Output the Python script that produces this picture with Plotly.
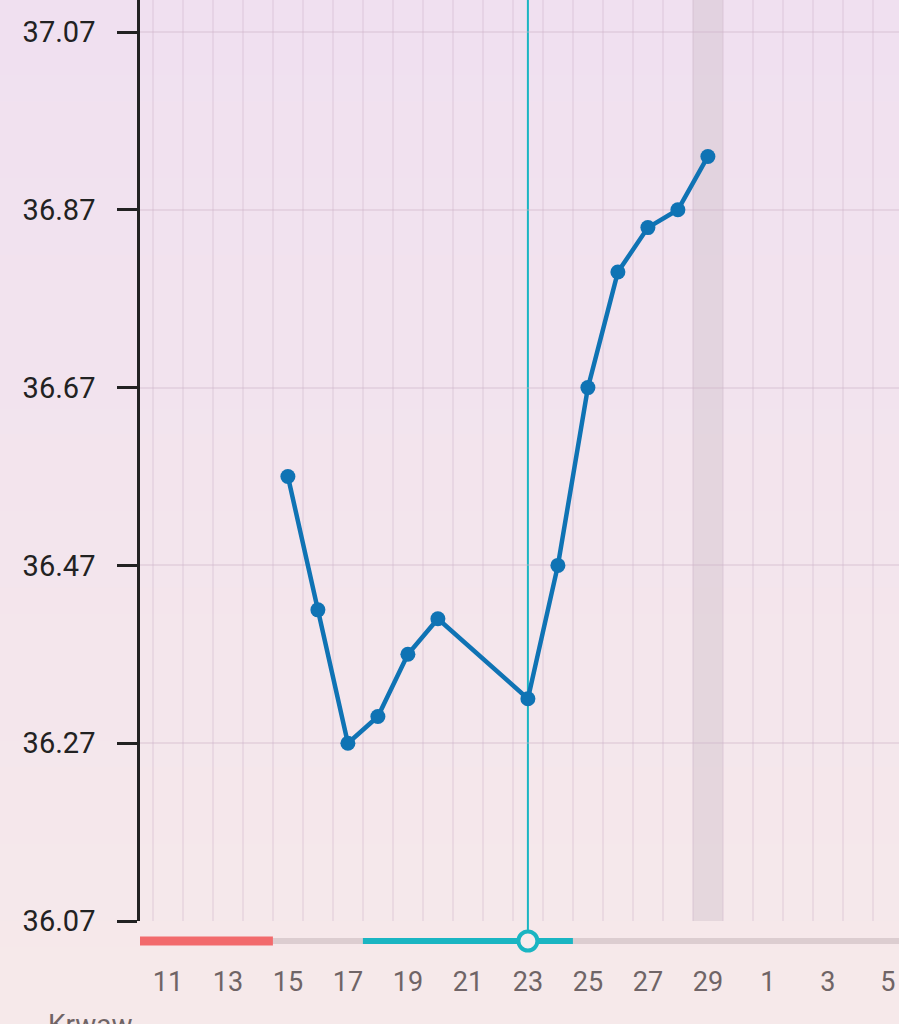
import plotly.graph_objects as go

# ---- data ----
days = [15, 16, 17, 18, 19, 20, 23, 24, 25, 26, 27, 28, 29]
temps = [36.57, 36.42, 36.27, 36.30, 36.37, 36.41, 36.32, 36.47, 36.67, 36.80, 36.85, 36.87, 36.93]

y_ticks = [36.07, 36.27, 36.47, 36.67, 36.87, 37.07]
x_tickvals = [11, 13, 15, 17, 19, 21, 23, 25, 27, 29, 31, 33, 35]
x_ticktext = ["11", "13", "15", "17", "19", "21", "23", "25", "27", "29", "1", "3", "5"]

period_days = [10.07, 14.5]      # red strip
fertile_days = [17.5, 24.5]      # teal strip
ovulation_day = 23
today_day = 29
x_range = [10.07, 35.37]
y_range = [36.07, 37.106]

W, H = 899, 1024
left_px, bottom_px = 140, 921
strip_px = 941

fig = go.Figure()

fig.add_trace(go.Scatter(
    x=days, y=temps, mode="lines+markers",
    line=dict(color="#0f73b4", width=4.5),
    marker=dict(color="#0f73b4", size=15),
    hoverinfo="skip", showlegend=False,
))

shapes = []
# background gradient
top_c = (240, 224, 240)
bot_c = (246, 233, 234)
n = 40
for i in range(n):
    t = i / (n - 1)
    c = tuple(round(top_c[k] + (bot_c[k] - top_c[k]) * t) for k in range(3))
    shapes.append(dict(type="rect", xref="paper", yref="paper",
                       x0=0, x1=1, y0=1 - (i + 1) / n, y1=1 - i / n + 0.001,
                       fillcolor="rgb(%d,%d,%d)" % c, line=dict(width=0), layer="below"))

# today band
shapes.append(dict(type="rect", xref="x", yref="paper", x0=today_day - 0.5, x1=today_day + 0.5,
                   y0=(H - bottom_px) / H, y1=1, fillcolor="rgba(205,190,200,0.4)",
                   line=dict(width=0), layer="below"))
# ovulation line
shapes.append(dict(type="line", xref="x", yref="paper", x0=ovulation_day, x1=ovulation_day,
                   y0=(H - strip_px) / H, y1=1, line=dict(color="#1ab5c2", width=2), layer="below"))

sy = (H - strip_px) / H
# strip: grey base
shapes.append(dict(type="line", xref="x", yref="paper", x0=x_range[0], x1=x_range[1], y0=sy, y1=sy,
                   line=dict(color="#dccdd0", width=6)))
shapes.append(dict(type="line", xref="x", yref="paper", x0=period_days[0], x1=period_days[1], y0=sy, y1=sy,
                   line=dict(color="#f26a6c", width=9)))
shapes.append(dict(type="line", xref="x", yref="paper", x0=fertile_days[0], x1=fertile_days[1], y0=sy, y1=sy,
                   line=dict(color="#1ab5c2", width=6)))
shapes.append(dict(type="circle", xref="x", yref="paper", xsizemode="pixel", ysizemode="pixel",
                   xanchor=ovulation_day, yanchor=sy, x0=-9.5, x1=9.5, y0=-9.5, y1=9.5,
                   fillcolor="#f8ecee", line=dict(color="#1ab5c2", width=4)))

fig.update_layout(
    width=W, height=H,
    margin=dict(l=0, r=0, t=0, b=0),
    paper_bgcolor="#f6e8ea",
    plot_bgcolor="rgba(0,0,0,0)",
    font=dict(family="Roboto", size=27, color="#222"),
    shapes=shapes,
    showlegend=False,
    xaxis=dict(
        domain=[left_px / W, 1],
        range=x_range,
        automargin=False,
        tickmode="array", tickvals=x_tickvals, ticktext=x_ticktext,
        showgrid=False, zeroline=False, showline=False, ticks="",
        tickfont=dict(size=27, color="#6f6466"),
        ticklabelstandoff=42,
        minor=dict(tick0=10.5, dtick=1, showgrid=True, gridcolor="rgba(205,180,200,0.28)", gridwidth=2),
        fixedrange=True,
    ),
    yaxis=dict(
        domain=[(H - bottom_px) / H, 1],
        range=y_range,
        automargin=False,
        tickmode="array", tickvals=y_ticks, ticktext=["%.2f" % v for v in y_ticks],
        showgrid=True, gridcolor="rgba(205,180,200,0.35)", gridwidth=2,
        zeroline=False,
        showline=True, linecolor="#222", linewidth=2.5,
        ticks="outside", ticklen=20, tickwidth=2.5, tickcolor="#222",
        tickfont=dict(size=29, color="#222"),
        ticklabelstandoff=16,
        fixedrange=True,
    ),
    annotations=[dict(text="Krwaw", xref="paper", yref="paper", x=46 / W, y=(H - 1006) / H,
                      xanchor="left", yanchor="top", showarrow=False,
                      font=dict(size=28, color="#6f6466"))],
)

fig.write_html("out.html", config={"displayModeBar": False},
               post_script="document.body.style.margin='0';document.body.style.overflow='hidden';")
